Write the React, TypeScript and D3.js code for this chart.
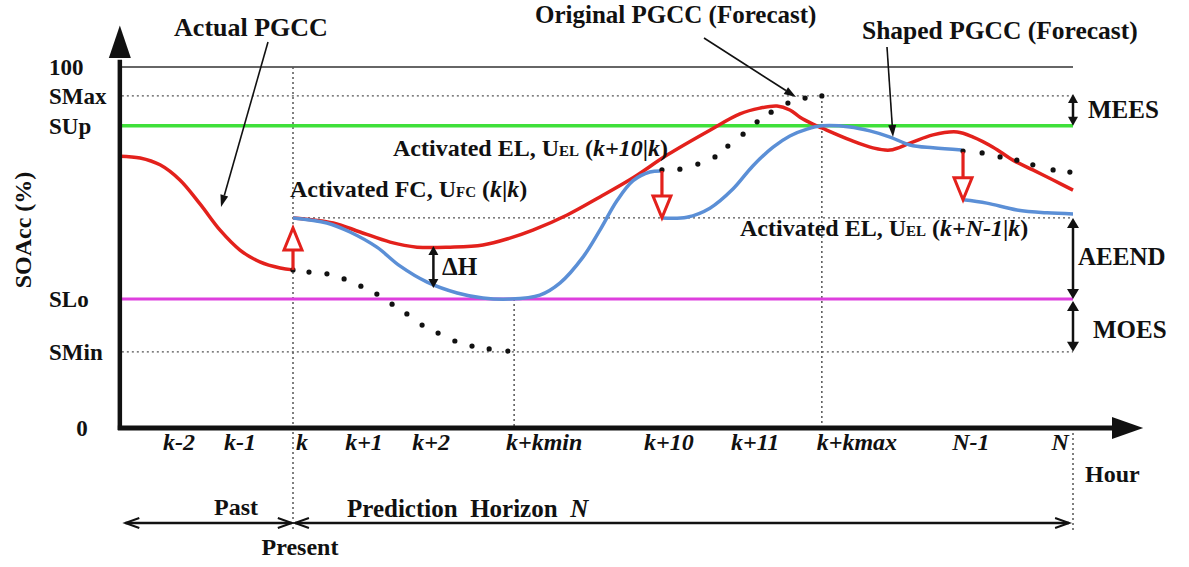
import React from "react";
import * as d3 from "d3";

// ---------- data (hour index relative to k, SOAcc %) ----------
const yTickLabels = ["100", "SMax", "SUp", "SLo", "SMin", "0"];
const yTickValues = [100, 92, 83.7, 35.7, 21.1, 0];

const xTickLabels = ["k-2", "k-1", "k", "k+1", "k+2", "k+kmin", "k+10", "k+11", "k+kmax", "N-1", "N"];
const xTickHours = [-2.92, -1.36, 0.23, 1.82, 3.54, 6.44, 9.64, 11.85, 14.46, 17.38, 19.67];

const S_MAX = 92;
const S_UP = 83.7;
const S_LO = 35.7;
const S_MIN = 21.1;
const FC_LEVEL = 58.2;
const K_MIN = 5.67;
const K_MAX = 13.56;
const HORIZON = 20;
const T_START = -4.44;

// Actual PGCC (past)
const actualPGCC: [number, number][] = [
  [-4.44, 75.3], [-3.92, 74.8], [-3.41, 72.9], [-2.9, 68.7], [-2.38, 62.0],
  [-1.87, 54.8], [-1.36, 49.3], [-0.85, 46.0], [-0.33, 44.3], [0, 43.8],
];

// Red forecast curve
const redForecast: [number, number][] = [
  [0, 58.2], [1.03, 56.8], [1.72, 54.3], [2.49, 51.5], [3.18, 50.1], [4.03, 50.1],
  [4.87, 50.7], [5.56, 52.6], [6.15, 54.8], [7.03, 59.0], [7.87, 64.0], [8.72, 69.3],
  [9.59, 75.6], [10.69, 82.5], [11.46, 87.0], [11.97, 88.6], [12.41, 89.2], [12.74, 88.1],
  [13.0, 86.1], [13.33, 84.2], [13.56, 83.1], [14.28, 79.8], [14.87, 77.6], [15.31, 77.0],
  [15.82, 78.9], [16.41, 81.2], [17.03, 82.0], [17.44, 80.6], [17.95, 77.8], [18.46, 74.2],
  [18.97, 71.5], [19.49, 68.7], [20, 65.9],
];

// Shaped PGCC (forecast), three segments split by activated EL
const shapedSeg1: [number, number][] = [
  [0, 58.2], [0.87, 56.8], [1.46, 54.3], [2.15, 50.1], [2.74, 44.9], [3.44, 40.4],
  [4.21, 37.4], [4.87, 36.0], [5.56, 35.7], [6.33, 36.8], [6.85, 40.2], [7.44, 47.4],
  [7.87, 54.8], [8.31, 63.0], [8.72, 68.5], [9.15, 70.9], [9.46, 71.2],
];
const shapedSeg2: [number, number][] = [
  [9.46, 58.2], [10.1, 58.4], [10.69, 60.9], [11.28, 66.2], [11.79, 72.6], [12.31, 77.8],
  [12.74, 80.9], [13.18, 82.8], [13.56, 83.7], [14.28, 83.4], [14.79, 82.3], [15.31, 80.6],
  [15.82, 78.4], [16.41, 77.6], [17.15, 77.0],
];
const shapedSeg3: [number, number][] = [
  [17.18, 63.2], [17.79, 62.3], [18.56, 60.4], [19.33, 59.6], [20, 59.3],
];

// Original PGCC (forecast), dotted
const originalSeg1: [number, number][] = [
  [0, 43.8], [0.41, 43.2], [0.87, 42.7], [1.31, 41.3], [1.74, 39.3], [2.15, 37.1],
  [2.54, 34.3], [2.92, 31.6], [3.31, 28.5], [3.72, 26.3], [4.15, 24.1], [4.59, 22.7],
  [5.03, 21.9], [5.51, 21.3],
];
const originalSeg2: [number, number][] = [
  [9.46, 71.5], [9.92, 71.7], [10.38, 73.1], [10.82, 75.1], [11.15, 78.1], [11.54, 81.4],
  [11.9, 84.8], [12.26, 87.5], [12.69, 90.0], [13.13, 91.4], [13.56, 92.0],
];
const originalSeg3: [number, number][] = [
  [17.18, 76.7], [17.67, 76.2], [18.13, 75.1], [18.56, 74.2], [18.97, 72.9], [19.49, 71.5],
  [19.92, 70.9],
];

// activation arrows: [hour, from SOAcc, to SOAcc]
const fcArrow: [number, number, number] = [0, 43.8, 55.4];
const elArrows: [number, number, number][] = [
  [9.46, 71.2, 58.2],
  [17.18, 76.5, 63.2],
];

// ---------- styling ----------
const RED = "#e3211c";
const BLUE = "#5b8fd6";
const GREEN = "#3fe03a";
const MAGENTA = "#de3fde";
const GRID = "#555";
const INK = "#111";
const FONT = "'Liberation Serif', 'Times New Roman', serif";

const x = d3.scaleLinear().domain([0, HORIZON]).range([293, 1073]);
const y = d3.scaleLinear().domain([0, 100]).range([428, 67]);

const line = d3
  .line<[number, number]>()
  .x((d) => x(d[0]))
  .y((d) => y(d[1]))
  .curve(d3.curveCatmullRom.alpha(0.5));

function DoubleArrow({ px, y1, y2, hl = 10, hw = 6, sw = 2.5 }: any) {
  const top = Math.min(y1, y2);
  const bot = Math.max(y1, y2);
  return (
    <g>
      <line x1={px} y1={top + hl - 1} x2={px} y2={bot - hl + 1} stroke={INK} strokeWidth={sw} />
      <polygon points={`${px},${top} ${px - hw},${top + hl} ${px + hw},${top + hl}`} fill={INK} />
      <polygon points={`${px},${bot} ${px - hw},${bot - hl} ${px + hw},${bot - hl}`} fill={INK} />
    </g>
  );
}

function Pointer({ x1, y1, x2, y2 }: any) {
  const ang = Math.atan2(y2 - y1, x2 - x1);
  const hl = 12, hw = 4;
  const bx = x2 - hl * Math.cos(ang);
  const by = y2 - hl * Math.sin(ang);
  const px = -Math.sin(ang), py = Math.cos(ang);
  return (
    <g>
      <line x1={x1} y1={y1} x2={bx} y2={by} stroke={INK} strokeWidth={1.6} />
      <polygon
        points={`${x2},${y2} ${bx + px * hw},${by + py * hw} ${bx - px * hw},${by - py * hw}`}
        fill={INK}
      />
    </g>
  );
}

function HollowArrow({ a }: { a: [number, number, number] }) {
  const [t, vFrom, vTo] = a;
  const px = x(t);
  const y0 = y(vFrom);
  const yTip = y(vTo);
  const dir = Math.sign(yTip - y0);
  const headLen = 22, hw = 9;
  const yBase = yTip - dir * headLen;
  return (
    <g>
      <line x1={px} y1={y0} x2={px} y2={yBase} stroke={RED} strokeWidth={3.2} />
      <polygon
        points={`${px - hw},${yBase} ${px + hw},${yBase} ${px},${yTip}`}
        fill="#fff"
        stroke={RED}
        strokeWidth={3}
        strokeLinejoin="miter"
      />
    </g>
  );
}

function OpenHead({ px, py, dir }: any) {
  const hl = 14, hw = 5;
  return (
    <path
      d={`M${px - dir * hl},${py - hw} L${px},${py} L${px - dir * hl},${py + hw}`}
      fill="none"
      stroke={INK}
      strokeWidth={2}
    />
  );
}

export default function App() {
  const x0 = x(T_START);
  const xEnd = x(HORIZON);
  const yAxis0 = y(0);
  const arrowY = 523;
  const dots = [originalSeg1, originalSeg2, originalSeg3];

  return (
    <svg width={1189} height={567} style={{ display: "block", position: "absolute", left: 0, top: 0, background: "#fff" }} fontFamily={FONT} fontWeight="bold">
      <rect width={1189} height={567} fill="#fff" />

      {/* horizontal reference lines */}
      <line x1={x0 + 2} x2={xEnd} y1={y(100)} y2={y(100)} stroke="#333" strokeWidth={1.5} />
      <line x1={x0 + 2} x2={xEnd} y1={y(S_MAX)} y2={y(S_MAX)} stroke={GRID} strokeWidth={1.3} strokeDasharray="2 3" />
      <line x1={x0 + 2} x2={xEnd} y1={y(S_MIN)} y2={y(S_MIN)} stroke={GRID} strokeWidth={1.3} strokeDasharray="2 3" />
      <line x1={x(0)} x2={xEnd} y1={y(FC_LEVEL)} y2={y(FC_LEVEL)} stroke={GRID} strokeWidth={1.3} strokeDasharray="2 3" />

      {/* vertical reference lines */}
      <line x1={x(0)} x2={x(0)} y1={y(100)} y2={532} stroke={GRID} strokeWidth={1.5} strokeDasharray="2 3" />
      <line x1={x(K_MIN)} x2={x(K_MIN)} y1={y(S_LO)} y2={yAxis0} stroke={GRID} strokeWidth={1.5} strokeDasharray="2 3" />
      <line x1={x(K_MAX)} x2={x(K_MAX)} y1={y(S_MAX)} y2={yAxis0} stroke={GRID} strokeWidth={1.5} strokeDasharray="2 3" />
      <line x1={xEnd} x2={xEnd} y1={yAxis0} y2={532} stroke={GRID} strokeWidth={1.5} strokeDasharray="2 3" />

      {/* SUp and SLo */}
      <line x1={x0 + 2} x2={xEnd} y1={y(S_UP)} y2={y(S_UP)} stroke={GREEN} strokeWidth={3.5} />
      <line x1={x0 + 2} x2={xEnd} y1={y(S_LO)} y2={y(S_LO)} stroke={MAGENTA} strokeWidth={3} />

      {/* curves */}
      <path d={line(actualPGCC) || ""} fill="none" stroke={RED} strokeWidth={3.5} />
      <path d={line(redForecast) || ""} fill="none" stroke={RED} strokeWidth={3.5} />
      {[shapedSeg1, shapedSeg2, shapedSeg3].map((s, i) => (
        <path key={i} d={line(s) || ""} fill="none" stroke={BLUE} strokeWidth={3.5} />
      ))}
      {dots.map((s, i) =>
        s.map((d, j) => <circle key={`${i}-${j}`} cx={x(d[0])} cy={y(d[1])} r={2.6} fill={INK} />)
      )}

      {/* activation arrows */}
      <HollowArrow a={fcArrow} />
      {elArrows.map((a, i) => (
        <HollowArrow key={i} a={a} />
      ))}

      {/* axes */}
      <line x1={x0} x2={x0} y1={yAxis0 + 2} y2={y(102)} stroke={INK} strokeWidth={4.5} />
      <polygon points={`${x0},${y(111.5)} ${x0 - 11},${y(102.5)} ${x0 + 11},${y(102.5)}`} fill={INK} />
      <line x1={x0 - 2} x2={x(21.1)} y1={yAxis0} y2={yAxis0} stroke={INK} strokeWidth={5} />
      <polygon points={`${x(21.8)},${yAxis0} ${x(21.0)},${yAxis0 - 11} ${x(21.0)},${yAxis0 + 11}`} fill={INK} />

      {/* y tick labels */}
      {yTickLabels.map((lab, i) => (
        <text
          key={lab}
          x={lab === "0" ? 82 : 49}
          y={y(yTickValues[i])}
          dy="0.36em"
          fontSize={23}
          textAnchor={lab === "0" ? "middle" : "start"}
          fill={INK}
        >
          {lab}
        </text>
      ))}

      {/* x tick labels */}
      {xTickLabels.map((lab, i) => (
        <text key={lab} x={x(xTickHours[i])} y={450} fontSize={24} fontStyle="italic" textAnchor="middle" fill={INK}>
          {lab}
        </text>
      ))}
      <text x={1085} y={482} fontSize={24} fill={INK}>Hour</text>

      {/* y axis title */}
      <text transform="translate(31,230) rotate(-90)" fontSize={24} textAnchor="middle" fill={INK}>
        SOAcc (%)
      </text>

      {/* double arrows */}
      <DoubleArrow px={xEnd} y1={y(S_MAX) - 2} y2={y(S_UP)} hl={9} hw={5} />
      <DoubleArrow px={xEnd} y1={y(FC_LEVEL)} y2={y(S_LO)} />
      <DoubleArrow px={xEnd} y1={y(S_LO) + 2} y2={y(S_MIN)} />
      <DoubleArrow px={x(3.6)} y1={y(50.4)} y2={y(38.8)} hl={9} hw={5} />

      <text x={1088} y={118} fontSize={25} fill={INK}>MEES</text>
      <text x={1078} y={265} fontSize={25} fill={INK}>AEEND</text>
      <text x={1093} y={338} fontSize={25} fill={INK}>MOES</text>
      <text x={442} y={275} fontSize={25} fill={INK}>ΔH</text>

      {/* activation labels */}
      <text x={393} y={156} fontSize={24} fill={INK}>
        Activated EL, U<tspan fontSize={15}>EL</tspan> (<tspan fontStyle="italic">k+10</tspan>|<tspan fontStyle="italic">k</tspan>)
      </text>
      <text x={290} y={197} fontSize={24} fill={INK}>
        Activated FC, U<tspan fontSize={15}>FC</tspan> (<tspan fontStyle="italic">k</tspan>|<tspan fontStyle="italic">k</tspan>)
      </text>
      <text x={740} y={236} fontSize={24} fill={INK}>
        Activated EL, U<tspan fontSize={15}>EL</tspan> (<tspan fontStyle="italic">k+N-1</tspan>|<tspan fontStyle="italic">k</tspan>)
      </text>

      {/* legend-like pointers */}
      <text x={251} y={36} fontSize={26} textAnchor="middle" fill={INK}>Actual PGCC</text>
      <Pointer x1={268} y1={42} x2={221} y2={207} />
      <text x={535} y={23} fontSize={25} fill={INK}>Original PGCC (Forecast)</text>
      <Pointer x1={704} y1={38} x2={796} y2={97} />
      <text x={862} y={39} fontSize={25.5} fill={INK}>Shaped PGCC (Forecast)</text>
      <Pointer x1={887} y1={47} x2={893} y2={137} />

      {/* past / prediction horizon */}
      <line x1={x(-4.3)} x2={x(-0.03)} y1={arrowY} y2={arrowY} stroke={INK} strokeWidth={2.5} />
      <OpenHead px={x(-4.3)} py={arrowY} dir={-1} />
      <OpenHead px={x(-0.03)} py={arrowY} dir={1} />
      <line x1={x(0.05)} x2={x(19.9)} y1={arrowY} y2={arrowY} stroke={INK} strokeWidth={2.5} />
      <OpenHead px={x(0.05)} py={arrowY} dir={-1} />
      <OpenHead px={x(19.9)} py={arrowY} dir={1} />
      <text x={236} y={515} fontSize={24} textAnchor="middle" fill={INK}>Past</text>
      <text x={347} y={517} fontSize={25} fill={INK} style={{ whiteSpace: "pre" }}>
        {"Prediction  Horizon  "}<tspan fontStyle="italic">N</tspan>
      </text>
      <text x={300} y={555} fontSize={24} textAnchor="middle" fill={INK}>Present</text>
    </svg>
  );
}
